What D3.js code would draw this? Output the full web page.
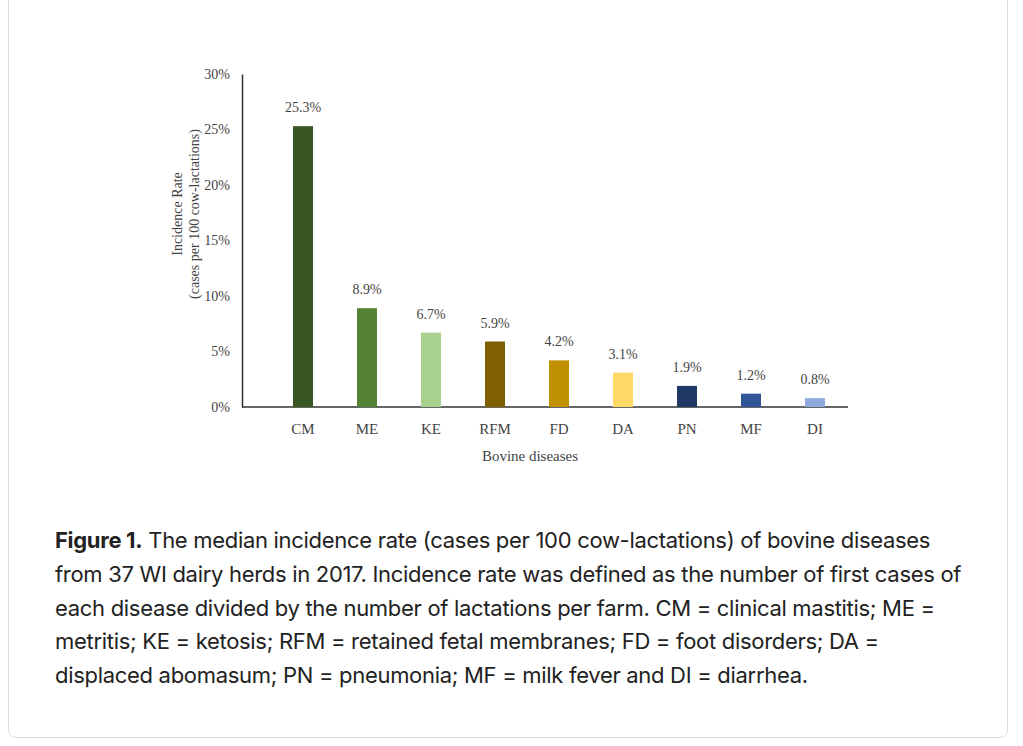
<!DOCTYPE html>
<html>
<head>
<meta charset="utf-8">
<script src="https://cdn.jsdelivr.net/npm/d3@7"></script>
<style>
  body { margin: 0; background: #fff; }
  .card { position: absolute; left: 8px; top: -10px; width: 1000px; height: 748px; border: 1px solid #ddd; border-radius: 8px; box-sizing: border-box; }
  .caption { position: absolute; left: 55px; top: 524px; width: 915px; font-family: Inter, "Open Sans", sans-serif; font-size: 22px; line-height: 33.8px; color: #222; letter-spacing: -0.3px; }
  svg { position: absolute; left: 0; top: 0; }
  text { font-family: "Liberation Serif", serif; fill: #444; }
</style>
</head>
<body>
<div class="card"></div>
<svg id="chart" width="1023" height="500"></svg>
<div class="caption"><b>Figure 1.</b> The median incidence rate (cases per 100 cow-lactations) of bovine diseases from 37 WI dairy herds in 2017. Incidence rate was defined as the number of first cases of each disease divided by the number of lactations per farm. CM = clinical mastitis; ME = metritis; KE = ketosis; RFM = retained fetal membranes; FD = foot disorders; DA = displaced abomasum; PN = pneumonia; MF = milk fever and DI = diarrhea.</div>
<script>
const categories = ["CM", "ME", "KE", "RFM", "FD", "DA", "PN", "MF", "DI"];
const values = [25.3, 8.9, 6.7, 5.9, 4.2, 3.1, 1.9, 1.2, 0.8];
const colors = ["#375623", "#548235", "#a9d18e", "#7f6000", "#bf9000", "#ffd966", "#1f3864", "#2f5597", "#8faadc"];
const yTicks = [0, 5, 10, 15, 20, 25, 30];

const svg = d3.select("#chart");
const x = d3.scaleBand().domain(categories).range([271, 847]);
const y = d3.scaleLinear().domain([0, 30]).range([407, 74]);
const barW = 20;

// y axis
const ya = svg.append("g").attr("transform", "translate(242,0)")
  .call(d3.axisLeft(y).tickValues(yTicks).tickSize(0).tickFormat(d => d + "%").tickPadding(12));
ya.select(".domain").attr("stroke", "#333").attr("stroke-width", 1.5);
ya.selectAll("text").style("font-size", "14px").attr("fill", "#444").attr("font-family", "Liberation Serif, serif");

// x axis
const xa = svg.append("g").attr("transform", "translate(0,407)")
  .call(d3.axisBottom(x).tickSize(0).tickPadding(16));
xa.select(".domain").attr("d", "M242,0H848").attr("stroke", "#333").attr("stroke-width", 1.5);
xa.selectAll("text").style("font-size", "15px").attr("fill", "#333").attr("font-family", "Liberation Serif, serif");

svg.selectAll("rect.bar").data(values).join("rect").attr("class", "bar")
  .attr("x", (d, i) => x(categories[i]) + x.bandwidth() / 2 - barW / 2)
  .attr("width", barW)
  .attr("y", d => y(d))
  .attr("height", d => y(0) - y(d))
  .attr("fill", (d, i) => colors[i]);

svg.selectAll("text.lbl").data(values).join("text").attr("class", "lbl")
  .attr("x", (d, i) => x(categories[i]) + x.bandwidth() / 2)
  .attr("y", d => y(d) - 14)
  .attr("text-anchor", "middle")
  .style("font-size", "14px")
  .text(d => d.toFixed(1) + "%");

svg.append("text").attr("x", 530).attr("y", 461).attr("text-anchor", "middle")
  .style("font-size", "15px").text("Bovine diseases");

const yl = svg.append("text").attr("transform", "translate(182,214) rotate(-90)")
  .attr("text-anchor", "middle").style("font-size", "14px");
yl.append("tspan").attr("x", 0).attr("dy", 0).text("Incidence Rate");
yl.append("tspan").attr("x", 0).attr("dy", 17).text("(cases per 100 cow-lactations)");
</script>
</body>
</html>
